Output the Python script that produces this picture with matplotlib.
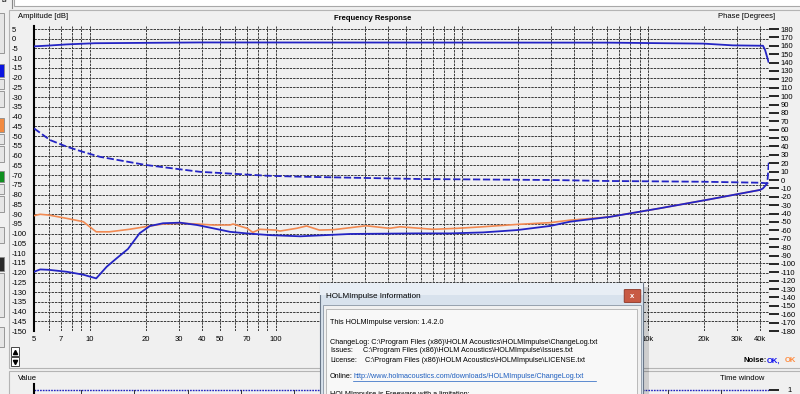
import numpy as np
import matplotlib
matplotlib.use('Agg')
import matplotlib.pyplot as plt
from matplotlib.patches import Rectangle, FancyBboxPatch
from matplotlib.lines import Line2D

plt.rcParams['font.family'] = ['Liberation Sans', 'DejaVu Sans']

# amplitude curves (Hz, dB)
top_f = [5, 6, 7.5, 10.6, 39, 6100, 19800, 28600, 41500, 42600, 44400]
top_db = [-3.9, -3.5, -2.9, -2.3, -1.9, -2.0, -2.5, -3.4, -3.6, -5.8, -11.8]

dash_f = [5, 6.1, 7.5, 9.2, 11.3, 20, 39, 89, 134, 600, 3000, 6000, 20000, 40000, 43800, 44600]
dash_db = [-46, -52, -55.4, -58.1, -60.6, -64.8, -68.3, -70.3, -70.8, -72, -72.5, -73, -73.4, -73.9, -74.2, -63.1]

low_f = [5, 5.4, 6, 7.5, 9.2, 10.8, 12.3, 13.9, 16, 18.5, 21, 24.7, 30.5, 37.6, 46, 56.6, 69.5,
         93, 135, 250, 573, 863, 1297, 1976, 2973, 3807, 6250, 11600, 21500, 40000, 41500, 43800]
low_db = [-119.6, -118.4, -118.6, -119.6, -121.1, -123, -117, -112.7, -107.9, -99.8, -96.1, -94.7,
          -94.4, -95.6, -97.3, -99.1, -99.9, -100.8, -101.4, -100.2, -99.9, -99.9, -99.4, -98.2,
          -96.1, -93.9, -91.4, -87.0, -82.4, -77.6, -76.8, -74.2]

org_f = [5, 5.4, 6, 7.5, 9.2, 10.8, 12.7, 16.3, 21, 24.7, 30.5, 37.6, 46, 56.6, 58.8, 70, 75, 81.8,
         100, 105, 129, 146, 171, 204, 305, 408, 464, 698, 942, 1297, 1976, 2973, 3807, 4600, 6250,
         11600, 21500, 40000]
org_db = [-90.8, -90.1, -90.5, -92.2, -93.9, -99.1, -99.1, -97.8, -96.1, -95.1, -94.7, -95.1, -95.6,
          -95.6, -95.1, -97.3, -99.4, -97.8, -98.2, -98.7, -97.3, -96.1, -98.2, -98.0, -96.0, -97.3,
          -96.5, -97.8, -97.3, -96.5, -95.3, -94.4, -93.1, -92.5, -91.4, -87.0, -82.4, -77.6]

grid_f = [5, 6, 7, 8, 9, 10, 20, 30, 40, 50, 60, 70, 80, 90, 100, 200, 300, 400, 500, 600, 700,
          800, 900, 1000, 2000, 3000, 4000, 5000, 6000, 7000, 8000, 9000, 10000, 20000, 30000, 40000]
# labels between 200 Hz and 7 kHz sit behind the dialog in the screenshot
x_labels = {5: '5', 7: '7', 10: '10', 20: '20', 30: '30', 40: '40', 50: '50', 70: '70', 100: '100',
            10000: '10k', 20000: '20k', 30000: '30k', 40000: '40k'}
db_ticks = list(range(-150, 6, 5))
phase_ticks = list(range(-180, 181, 10))
tw_ticks = [0.064, 0.136, 0.209, 0.281, 0.354, 0.427, 0.499, 0.572, 0.645, 0.717, 0.790, 0.863, 0.935]

W, H = 800, 394
BG = '#f0f0f0'
BLUE = '#2424c4'
ORANGE = '#f28a52'
FS = 5.5

fig = plt.figure(figsize=(8, 3.94), dpi=100, facecolor=BG)


def R(x, y, w, h, **kw):
    fig.add_artist(Rectangle((x / W, 1 - (y + h) / H), w / W, h / H, transform=fig.transFigure, **kw))


def T(x, y, s, **kw):
    kw.setdefault('fontsize', FS)
    kw.setdefault('va', 'center')
    fig.text(x / W, 1 - y / H, s, **kw)


def L(xs, ys, **kw):
    fig.add_artist(Line2D([x / W for x in xs], [1 - y / H for y in ys], transform=fig.transFigure, **kw))


# ---- main frequency response axes
ax = fig.add_axes([34 / W, 1 - 331 / H, 735 / W, 305 / H])
ax.set_facecolor(BG)
ax.set_xscale('log')
ax.set_xlim(5, 44700)
ax.set_ylim(-150, 6.54)
ax.set_xticks(grid_f)
ax.set_xticklabels([x_labels.get(f, '') for f in grid_f], fontsize=FS)
ax.xaxis.set_minor_locator(matplotlib.ticker.NullLocator())
ax.set_yticks(db_ticks)
ax.set_yticklabels([str(v) for v in db_ticks], fontsize=FS, ha='left')
ax.tick_params(axis='y', length=0, pad=15.8)
ax.tick_params(axis='x', length=0, pad=3.5)
ax.grid(True, color='#3a3a3a', linestyle=(0, (2.5, 1)), linewidth=0.7)
for s in ['top', 'right', 'bottom']:
    ax.spines[s].set_visible(False)
ax.spines['left'].set_linewidth(1.5)
ax.spines['left'].set_bounds(-150, 6.54)

ax.plot(top_f, top_db, color=BLUE, lw=1.3, zorder=3)
ax.plot(dash_f, dash_db, color=BLUE, lw=1.3, ls=(0, (4, 1.5)), zorder=3)
ax.plot(org_f, org_db, color=ORANGE, lw=1.2, zorder=3)
ax.plot(low_f, low_db, color=BLUE, lw=1.3, zorder=4)

ax2 = ax.twinx()
ax2.set_ylim(-180, 183.58)
ax2.set_yticks(phase_ticks)
ax2.set_yticklabels([str(v) for v in phase_ticks], fontsize=FS)
ax2.tick_params(axis='y', direction='out', length=7, width=1.2, pad=1.5)
for s in ax2.spines.values():
    s.set_visible(False)

# ---- window chrome
R(14, -3, 790, 9, fc='white', ec='#a8a8a8', lw=0.8)
T(1, 1, 'ls')
L([12, 12], [0, 8], color='#888888', lw=0.8)
R(9, 10, 800, 358, fc='none', ec='#b4b4b4', lw=0.8)
R(9, 371, 800, 40, fc='none', ec='#b4b4b4', lw=0.8)

for y0, h, c in [(13, 40, '#e6e6e6'), (64, 13, '#0a14e0'), (79, 10, '#e6e6e6'), (91, 16, '#e6e6e6'),
                 (118, 14, '#f28a40'), (134, 10, '#e6e6e6'), (146, 16, '#e6e6e6'),
                 (171, 11, '#109020'), (184, 10, '#e6e6e6'), (196, 16, '#e6e6e6'),
                 (227, 16, '#e6e6e6'), (257, 14, '#2a2a2a'), (273, 44, '#e6e6e6'), (327, 20, '#e6e6e6')]:
    R(-2, y0, 6, h, fc=c, ec='#8a8a8a', lw=0.6)

T(18, 17, 'Amplitude [dB]')
T(373, 19, 'Frequency Response', fontweight='bold', ha='center')
T(775, 16, 'Phase [Degrees]', ha='right')

R(11, 347, 8, 9, fc='white', ec='#444444', lw=0.7)
R(11, 357, 8, 9, fc='white', ec='#444444', lw=0.7)
fig.add_artist(Line2D([15 / W], [1 - 351.5 / H], marker='^', ms=3, color='black', transform=fig.transFigure))
fig.add_artist(Line2D([15 / W], [1 - 361.5 / H], marker='v', ms=3, color='black', transform=fig.transFigure))

T(743, 361, 'Noise:', fontweight='bold')
T(767, 361, 'OK,', fontweight='bold', color='#1010ee')
T(785, 361, 'OK', fontweight='bold', color='#ff8c40')

# ---- time window strip
T(18, 378, 'Value')
T(742, 378, 'Time window', ha='center')
ax3 = fig.add_axes([34 / W, 0, 735 / W, 10 / H])
ax3.set_facecolor(BG)
ax3.set_xlim(0, 1)
ax3.set_ylim(0.6, 1.6)
ax3.plot([0, 1], [1, 1], color='#2020c0', lw=1.0, ls=(0, (1.2, 0.8)))
for t in tw_ticks:
    ax3.axvline(t, ymin=0, ymax=0.4, color='#333333', lw=0.7)
ax3.set_xticks([])
ax3.set_yticks([1])
ax3.set_yticklabels(['1'], fontsize=FS)
ax3.yaxis.tick_right()
ax3.tick_params(axis='y', direction='out', length=7, width=1.2, pad=6)
for s in ['top', 'right', 'bottom']:
    ax3.spines[s].set_visible(False)
ax3.spines['left'].set_linewidth(1.5)

# ---- information dialog
DFS = 5.25
R(323, 287, 326, 112, fc='black', alpha=0.14, lw=0, zorder=5)
R(320, 283, 323, 115, fc='#d8e2ed', ec='#6a7788', lw=0.8, zorder=6)
R(320, 283, 323, 12, fc='#e8eef5', lw=0, zorder=6)
T(326, 296, 'HOLMImpulse Information', fontsize=5.9, zorder=7)
fig.add_artist(FancyBboxPatch((625 / W, 1 - 302 / H), 15 / W, 12 / H, boxstyle='round,pad=0.001',
                              fc='#c85a44', ec='#8a3020', lw=0.6, transform=fig.transFigure, zorder=7))
T(632.5, 296, 'x', color='white', fontsize=5.5, fontweight='bold', ha='center', zorder=8)
R(323, 305, 318, 95, fc='#f0f0f0', ec='#8a96a5', lw=0.6, zorder=6)
R(326, 309, 311, 90, fc='#f8f8f8', ec='#b0b0b0', lw=0.6, zorder=6)

T(330, 323, 'This HOLMImpulse version: 1.4.2.0', fontsize=DFS, zorder=7)
T(330, 342, r'ChangeLog: C:\Program Files (x86)\HOLM Acoustics\HOLMImpulse\ChangeLog.txt',
  fontsize=DFS, zorder=7)
T(330, 351, 'Issues:', fontsize=DFS, zorder=7)
T(363, 351, r'C:\Program Files (x86)\HOLM Acoustics\HOLMImpulse\Issues.txt', fontsize=DFS, zorder=7)
T(330, 360, 'License:', fontsize=DFS, zorder=7)
T(365, 360, r'C:\Program Files (x86)\HOLM Acoustics\HOLMImpulse\LICENSE.txt', fontsize=DFS, zorder=7)
T(330, 377, 'Online:', fontsize=DFS, zorder=7)
T(353, 377, 'http://www.holmacoustics.com/downloads/HOLMImpulse/ChangeLog.txt', fontsize=DFS,
  color='#1f5fbf', zorder=7)
L([353, 596], [380.5, 380.5], color='#1f5fbf', lw=0.5, zorder=7)
T(330, 395, 'HOLMImpulse is Freeware with a limitation:', fontsize=DFS, zorder=7)

fig.savefig('out.png', dpi=100, facecolor=BG)
